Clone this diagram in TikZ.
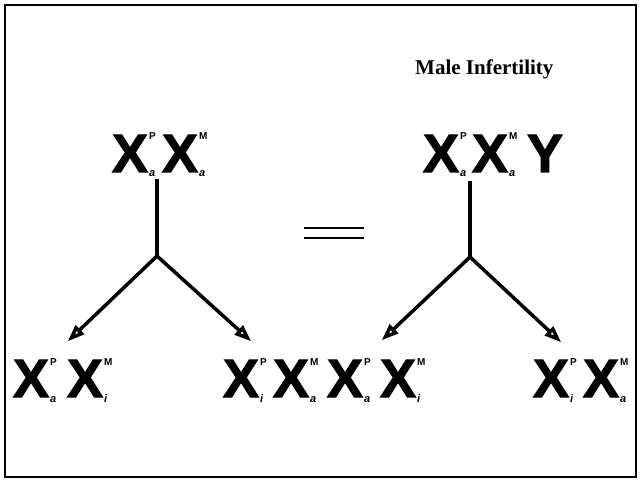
\documentclass[tikz,border=0pt]{standalone}
\usepackage{fontspec}
\setmainfont{Liberation Serif}
\newfontfamily\sansf{Liberation Sans}
\newfontfamily\heavyf{Liberation Sans Bold}[FakeBold=2]
\usetikzlibrary{arrows.meta}
\newcommand\bigf{\heavyf\fontsize{54}{54}\selectfont}
\newcommand\supf{\sansf\bfseries\fontsize{10}{10}\selectfont}
\newcommand\subf{\sansf\bfseries\itshape\fontsize{11}{11}\selectfont}
\newcommand\chrx[2]{\bigf X\kern1pt\rlap{\raisebox{32pt}{\supf #1}}\raisebox{-5pt}{\subf #2}}
\tikzset{
  chrom/.style={anchor=base west, inner sep=0pt, outer sep=0pt},
  stem/.style={line width=4pt},
  branch/.style={line width=3.5pt, -{Triangle[open, length=17pt, width=12pt]}, shorten >=1pt},
  title/.style={anchor=base west, inner sep=0pt, font=\bfseries\fontsize{21}{21}\selectfont},
}
\begin{document}
\begin{tikzpicture}[x=1pt,y=-1pt]
\useasboundingbox (0,0) rectangle (640,481);
\draw[line width=1.5pt] (5,5) rectangle (636,477);
\node[title] (t) at (415,75) {Male Infertility};
% top left
\node[chrom] (a1) at (112,172) {\chrx{P}{a}};
\node[chrom] (a2) at (162,172) {\chrx{M}{a}};
% top right
\node[chrom] (b1) at (423,172) {\chrx{P}{a}};
\node[chrom] (b2) at (472,172) {\chrx{M}{a}};
\node[chrom] (b3) at (527,172) {\bigf Y};
% bottom
\node[chrom] (c1) at (13,397) {\chrx{P}{a}};
\node[chrom] (c2) at (67,397) {\chrx{M}{i}};
\node[chrom] (d1) at (223,397) {\chrx{P}{i}};
\node[chrom] (d2) at (273,397) {\chrx{M}{a}};
\node[chrom] (e1) at (327,397) {\chrx{P}{a}};
\node[chrom] (e2) at (380,397) {\chrx{M}{i}};
\node[chrom] (f1) at (533,397) {\chrx{P}{i}};
\node[chrom] (f2) at (583,397) {\chrx{M}{a}};
% left tree
\coordinate (ls) at (157,179);
\coordinate (lb) at (157,256);
\coordinate (lt1) at (67,342);
\coordinate (lt2) at (252,342);
\draw[stem] (ls) -- (lb);
\draw[branch] (lb) -- (lt1);
\draw[branch] (lb) -- (lt2);
% right tree
\coordinate (rs) at (470,181);
\coordinate (rb) at (470,257);
\coordinate (rt1) at (381,341);
\coordinate (rt2) at (562,343);
\draw[stem] (rs) -- (rb);
\draw[branch] (rb) -- (rt1);
\draw[branch] (rb) -- (rt2);
% equals sign
\draw[line width=2.2pt] (304,228) -- (364,228);
\draw[line width=2pt] (304,238) -- (364,238);
\end{tikzpicture}
\end{document}
